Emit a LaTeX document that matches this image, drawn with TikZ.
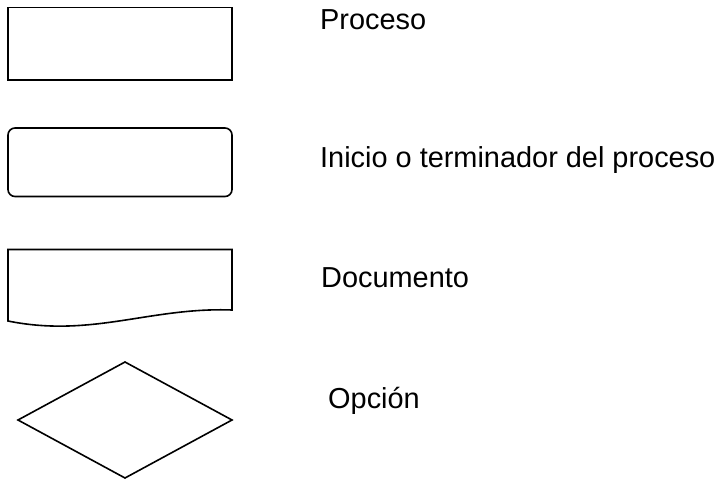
\documentclass[tikz,border=0pt]{standalone}
\usepackage{fontspec}
\setmainfont{Liberation Sans}
\begin{document}
\begin{tikzpicture}[x=1pt,y=-1pt,
  shp/.style={draw=black,line width=1.6pt,line join=miter},
  lbl/.style={anchor=base west,inner sep=0pt,font=\fontsize{28.9}{32}\selectfont}]
\useasboundingbox (0,0) rectangle (724,479);
% Proceso
\draw[shp] (8,7.5) rectangle (232,80);
% Inicio / terminador
\draw[shp,rounded corners=7pt] (8,128) rectangle (232,196.5);
% Documento
\draw[shp] (8,321) -- (8,249.5) -- (232,249.5) -- (232,310)
  .. controls (150,307) and (92,338) .. cycle;
% Opcion
\draw[shp] (18,420) -- (125,362) -- (232,420) -- (125,478) -- cycle;
% labels
\node[lbl] (t1) at (320,30) {Proceso};
\node[lbl] (t2) at (320,167) {Inicio o terminador del proceso};
\node[lbl] (t3) at (321,287) {Documento};
\node[lbl] (t4) at (328,408) {Opción};
\end{tikzpicture}
\end{document}
